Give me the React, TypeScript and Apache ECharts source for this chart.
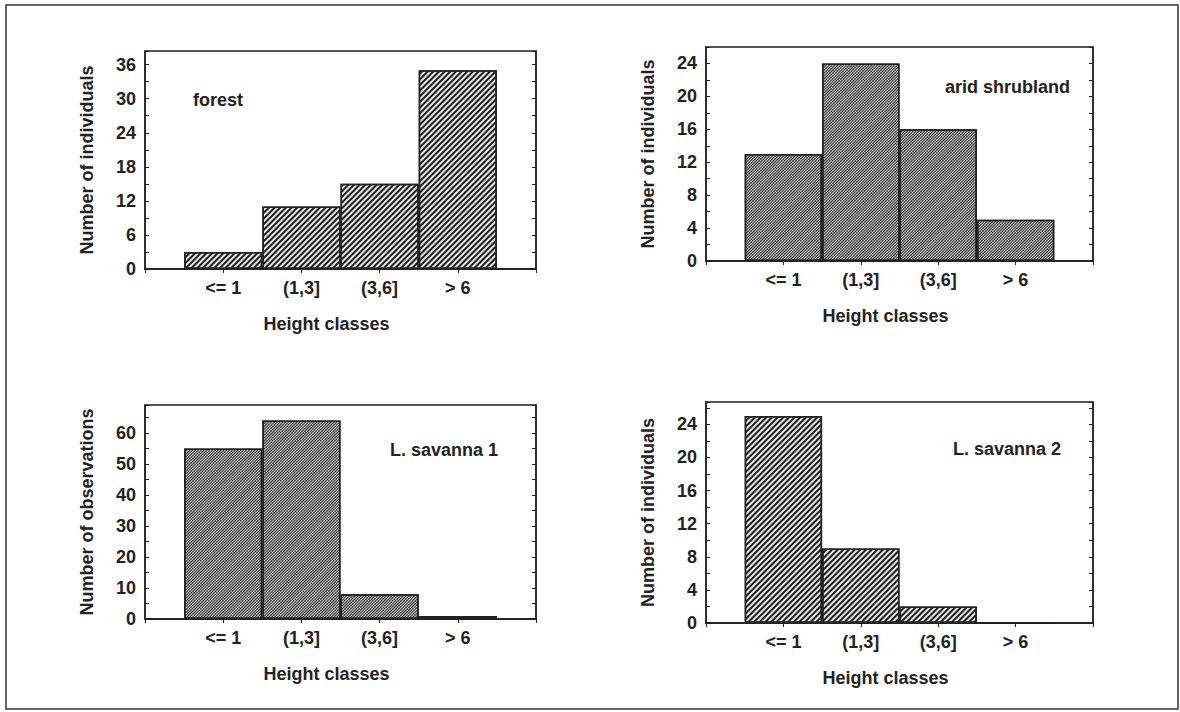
import { useEffect, useRef } from 'react';
import * as echarts from 'echarts';

// ---- data ----
const categories = ['<= 1', '(1,3]', '(3,6]', '> 6'];
const forestCounts = [3, 11, 15, 35];
const shrublandCounts = [13, 24, 16, 5];
const savanna1Counts = [55, 64, 8, 1];
const savanna2Counts = [25, 9, 2, 0];
const panelNames = ['forest', 'arid shrubland', 'L. savanna 1', 'L. savanna 2'];
const yTitles = ['Number of individuals', 'Number of individuals', 'Number of observations', 'Number of individuals'];
const xTitle = 'Height classes';
const yMaxes = [38.4, 26, 69, 26.7];
const tickSteps = [3, 2, 5, 2];
const labelSteps = [6, 4, 10, 4];
const labelMaxes = [36, 24, 60, 24];

// ---- layout / style ----
const FONT = 'Liberation Sans, Arial, Helvetica, sans-serif';
const INK = '#222';
const grids = [
  { left: 145, top: 51, width: 391, height: 218 },
  { left: 706, top: 47, width: 387, height: 214 },
  { left: 145, top: 405, width: 391, height: 214 },
  { left: 706, top: 402, width: 387, height: 221 },
];
const namePos = [
  { x: 193, y: 100, align: 'left' },
  { x: 945, y: 87, align: 'left' },
  { x: 390, y: 450, align: 'left' },
  { x: 953, y: 449, align: 'left' },
];
const hatch = [
  { dash: [1.5, 1.2], color: '#1e1e1e', base: '#e6e6e6' },
  { dash: [0.9, 1.0], color: '#333333', base: '#c6c6c6' },
  { dash: [0.9, 1.0], color: '#333333', base: '#c6c6c6' },
  { dash: [1.5, 1.2], color: '#1e1e1e', base: '#e6e6e6' },
];

const textBase = { fontFamily: FONT, fontSize: 18, fontWeight: 'bold' as const, color: INK };

function buildOption() {
  const allCounts = [forestCounts, shrublandCounts, savanna1Counts, savanna2Counts];
  const paddedCats = ['', ...categories, ''];
  const xAxis: any[] = [];
  const yAxis: any[] = [];
  const series: any[] = [];
  grids.forEach((g, i) => {
    xAxis.push({
      gridIndex: i,
      type: 'category',
      data: paddedCats,
      boundaryGap: false,
      axisLine: { show: true, lineStyle: { color: INK, width: 1.5 } },
      axisTick: { show: false },
      axisLabel: { interval: 0, margin: 10, ...textBase },
      name: xTitle,
      nameLocation: 'middle',
      nameGap: 46,
      nameTextStyle: { ...textBase, padding: [0, 28, 0, 0] },
      splitLine: { show: false },
    });
    xAxis.push({
      gridIndex: i,
      type: 'category',
      data: paddedCats,
      boundaryGap: false,
      position: 'top',
      axisLine: { show: true, lineStyle: { color: INK, width: 1.5 } },
      axisTick: { show: true, inside: true, length: 4, interval: 0, lineStyle: { color: INK } },
      axisLabel: { show: false },
      splitLine: { show: false },
    });
    const step = labelSteps[i];
    const lmax = labelMaxes[i];
    yAxis.push({
      gridIndex: i,
      type: 'value',
      min: 0,
      max: yMaxes[i],
      interval: tickSteps[i],
      name: yTitles[i],
      nameLocation: 'middle',
      nameGap: 49,
      nameTextStyle: { ...textBase },
      axisLine: { show: true, lineStyle: { color: INK, width: 1.5 } },
      axisTick: { show: true, inside: true, length: 4, lineStyle: { color: INK } },
      axisLabel: {
        margin: 9,
        ...textBase,
        formatter: (v: number) => (Math.abs(v % step) < 1e-6 && v <= lmax ? String(v) : ''),
      },
      splitLine: { show: false },
    });
    yAxis.push({
      gridIndex: i,
      type: 'value',
      min: 0,
      max: yMaxes[i],
      interval: tickSteps[i],
      position: 'right',
      axisLine: { show: true, lineStyle: { color: INK, width: 1.5 } },
      axisTick: { show: true, inside: true, length: 4, lineStyle: { color: INK } },
      axisLabel: { show: false },
      splitLine: { show: false },
    });
    series.push({
      type: 'bar',
      xAxisIndex: 2 * i,
      yAxisIndex: 2 * i,
      data: ['-', ...allCounts[i], '-'],
      barWidth: '100%',
      itemStyle: {
        color: hatch[i].base,
        borderColor: INK,
        borderWidth: 1.5,
        decal: {
          symbol: 'rect',
          symbolSize: 1,
          color: hatch[i].color,
          dashArrayX: [1, 0],
          dashArrayY: hatch[i].dash,
          rotation: -Math.PI / 4,
        },
      },
      emphasis: { disabled: true },
      silent: true,
    });
  });

  const graphic: any[] = [
    {
      type: 'rect',
      shape: { x: 6, y: 5, width: 1172, height: 704 },
      style: { fill: 'none', stroke: '#333', lineWidth: 1.5 },
      silent: true,
    },
    ...panelNames.map((name, i) => ({
      type: 'text',
      x: namePos[i].x,
      y: namePos[i].y,
      style: {
        text: name,
        fill: INK,
        font: `bold 18px ${FONT}`,
        textAlign: namePos[i].align,
        textVerticalAlign: 'middle',
      },
      silent: true,
    })),
  ];

  return {
    animation: false,
    backgroundColor: '#ffffff',
    grid: grids.map((g) => ({ ...g, show: true, borderColor: INK, borderWidth: 1.5, containLabel: false })),
    xAxis,
    yAxis,
    series,
    graphic,
  };
}

export default function App() {
  const ref = useRef<HTMLDivElement>(null);
  useEffect(() => {
    if (!ref.current) return;
    const chart = echarts.init(ref.current, null, { renderer: 'svg' });
    chart.setOption(buildOption() as any);
    return () => chart.dispose();
  }, []);
  return (
    <div
      ref={ref}
      style={{ position: 'fixed', left: 0, top: 0, width: 1180, height: 712, background: '#fff' }}
    />
  );
}
